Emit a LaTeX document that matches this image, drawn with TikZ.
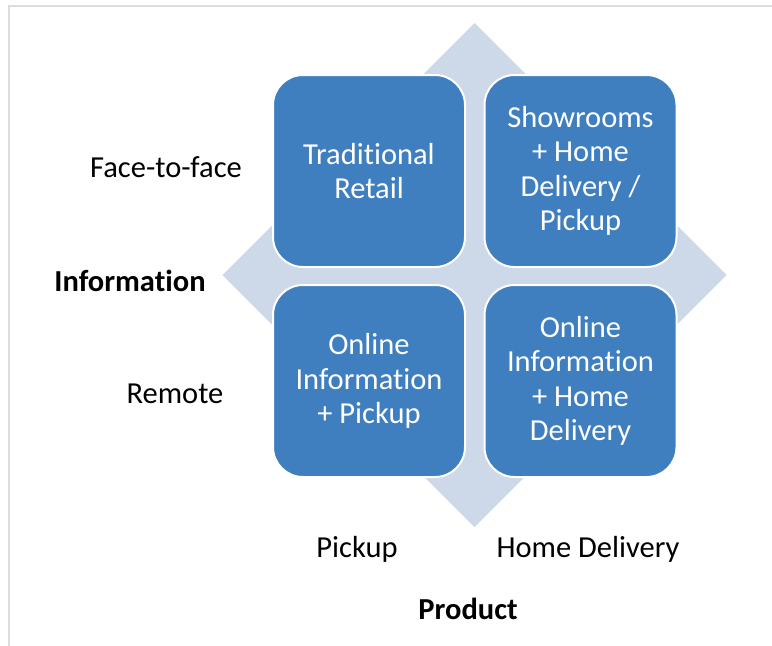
\documentclass[tikz,border=0pt]{standalone}
\usepackage{fontspec}
\setmainfont{Carlito}[Ligatures={NoCommon,NoRequired,NoContextual}]
\definecolor{boxblue}{HTML}{3F7FC0}
\definecolor{diamondfill}{HTML}{CDD8E9}
\definecolor{framegray}{HTML}{DDDDDD}
\newcommand{\nolig}{\kern0pt }
\begin{document}
\begin{tikzpicture}[x=1pt,y=-1pt,
  quad/.style={draw=white,line width=2pt,fill=boxblue,rounded corners=30pt,
    minimum width=192pt,minimum height=192pt,inner sep=0pt,text=white,
    align=center,font=\fontsize{30.5}{34.5}\selectfont},
  lab/.style={text=black,font=\fontsize{30.5}{34.5}\selectfont,inner sep=0pt},
  blab/.style={lab,font=\fontsize{30.5}{34.5}\selectfont\bfseries}]
\useasboundingbox (0,0) rectangle (772,646);
\fill[white] (0,0) rectangle (772,646);
\draw[framegray,line width=1.2pt] (9,646) -- (9,6) -- (772,6);
\fill[diamondfill] (474.5,23) -- (726.5,275) -- (474.5,527) -- (222.5,275) -- cycle;
\node[quad] (tl) at (369,171) {Tradit\nolig ional\\Retail};
\node[quad] (tr) at (580.5,171) {Showrooms\\+ Home\\Delivery /\\Pickup};
\node[quad] (bl) at (369,381) {Online\\Informat\nolig ion\\+ Pickup};
\node[quad] (br) at (580.5,381) {Online\\Informat\nolig ion\\+ Home\\Delivery};
\node[lab] (ftf) at (166,167) {Face-to-face};
\node[blab] (info) at (130,281) {Informat\nolig ion};
\node[lab] (rem) at (175,394) {Remote};
\node[lab] (pick) at (357,549) {Pickup};
\node[lab] (hd) at (588,549) {Home Delivery};
\node[blab] (prod) at (468,609) {Product};
\end{tikzpicture}
\end{document}
